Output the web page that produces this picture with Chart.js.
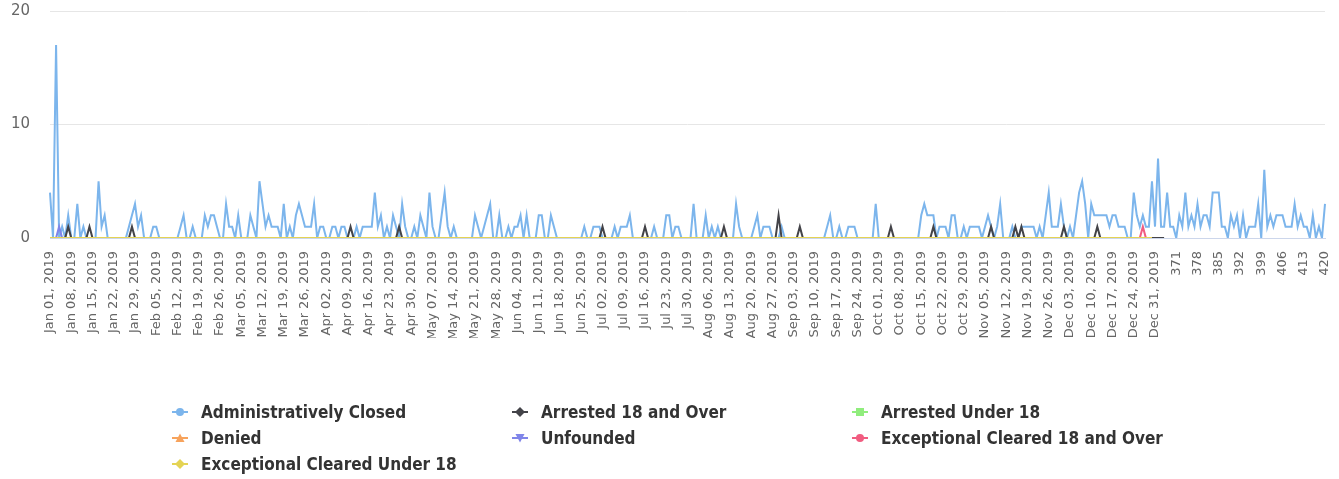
<!DOCTYPE html>
<html>
<head>
<meta charset="utf-8">
<script src="https://cdn.jsdelivr.net/npm/chart.js@4"></script>
<style>
    html, body { margin: 0; padding: 0; background: #fff; }
    #wrap { position: relative; width: 1339px; height: 479px; }
    #chart { position: absolute; left: 0; top: 0; }
    #legend { position: absolute; left: 172px; top: 399px; width: 1100px; }
    .legend-item {
        position: absolute; height: 26px; line-height: 26px; white-space: nowrap;
        font-family: "DejaVu Sans Condensed", "DejaVu Sans", sans-serif;
        font-weight: bold; font-size: 17px; color: #333;
    }
    .legend-item svg { position: absolute; left: 0; top: 5px; }
    .legend-item span { position: absolute; left: 29px; top: 0; }
</style>
</head>
<body>
<div id="wrap">
    <canvas id="chart" width="1339" height="479"></canvas>
    <div id="legend"></div>
</div>
<script>
// Series names and colours (Highcharts default palette)
const seriesNames = ['Administratively Closed', 'Arrested 18 and Over', 'Arrested Under 18', 'Denied',
    'Unfounded', 'Exceptional Cleared 18 and Over', 'Exceptional Cleared Under 18'];
const seriesColors = ['#7cb5ec', '#434348', '#90ed7d', '#f7a35c', '#8085e9', '#f15c80', '#e4d354'];
const seriesMarkers = ['circle', 'diamond', 'square', 'triangle', 'triangle-down', 'circle', 'diamond'];

// Y axis ticks
const yTicks = [0, 10, 20];

// Categories: every day of 2019, then plain index numbers
const monthNames = ['Jan', 'Feb', 'Mar', 'Apr', 'May', 'Jun', 'Jul', 'Aug', 'Sep', 'Oct', 'Nov', 'Dec'];
const monthDays = [31, 28, 31, 30, 31, 30, 31, 31, 30, 31, 30, 31];
const categories = [];
monthNames.forEach(function(m, mi) {
    for (let d = 1; d <= monthDays[mi]; d++) {
        categories.push(m + ' ' + (d < 10 ? '0' + d : d) + ', 2019');
    }
});
for (let n = 365; n <= 420; n++) categories.push(String(n));

// Administratively Closed (421 points)
const adminClosed = [
    4,0,17,0,1,0,2,0,0,3,   0,1,0,0,0,0,5,1,2,0,
    0,0,0,0,0,0,1,2,3,1,    2,0,0,0,1,1,0,0,0,0,
    0,0,0,1,2,0,0,1,0,0,    0,2,1,2,2,1,0,0,3,1,
    1,0,2,0,0,0,2,1,0,5,    3,1,2,1,1,1,0,3,0,1,
    0,2,3,2,1,1,1,3,0,1,    1,0,0,1,1,0,1,1,0,0,
    0,1,0,1,1,1,1,4,1,2,    0,1,0,2,1,0,3,1,0,0,
    1,0,2,1,0,4,1,0,0,2,    4,1,0,1,0,0,0,0,0,0,
    2,1,0,1,2,3,0,0,2,0,    0,1,0,1,1,2,0,2,0,0,
    0,2,2,0,0,2,1,0,0,0,    0,0,0,0,0,0,1,0,0,1,
    1,1,0,0,0,0,1,0,1,1,    1,2,0,0,0,0,0,0,0,1,
    0,0,0,2,2,0,1,1,0,0,    0,0,3,0,0,0,2,0,1,0,
    1,0,0,0,0,0,3,1,0,0,    0,0,1,2,0,1,1,1,0,0,
    0,1,0,0,0,0,0,0,0,0,    0,0,0,0,0,0,1,2,0,0,
    1,0,0,1,1,1,0,0,0,0,    0,0,3,0,0,0,0,0,0,0,
    0,0,0,0,0,0,0,2,3,2,    2,2,0,1,1,1,0,2,2,0,
    0,1,0,1,1,1,1,0,1,2,    1,0,1,3,0,0,0,1,0,0,
    1,1,1,1,1,0,1,0,2,4,    1,1,1,3,1,0,1,0,2,4,
    5,3,0,3,2,2,2,2,2,1,    2,2,1,1,1,0,0,4,2,1,
    2,1,1,5,1,7,1,1,4,1,    1,0,2,1,4,1,2,1,3,1,
    2,2,1,4,4,4,1,1,0,2,    1,2,0,2,0,1,1,1,3,0,
    6,1,2,1,2,2,2,1,1,1,    3,1,2,1,1,0,2,0,1,0,
    3
];

// Arrested 18 and Over (368 points)
const arrested18Over = [
    0,0,0,0,0,0,1,0,0,0,0,0,0,1,0,0,0,0,0,0,
    0,0,0,0,0,0,0,1,0,0,0,0,0,0,0,0,0,0,0,0,
    0,0,0,0,0,0,0,0,0,0,0,0,0,0,0,0,0,0,0,0,
    0,0,0,0,0,0,0,0,0,0,0,0,0,0,0,0,0,0,0,0,
    0,0,0,0,0,0,0,0,0,0,0,0,0,0,0,0,0,0,0,1,
    0,0,0,0,0,0,0,0,0,0,0,0,0,0,0,1,0,0,0,0,
    0,0,0,0,0,0,0,0,0,0,0,0,0,0,0,0,0,0,0,0,
    0,0,0,0,0,0,0,0,0,0,0,0,0,0,0,0,0,0,0,0,
    0,0,0,0,0,0,0,0,0,0,0,0,0,0,0,0,0,0,0,0,
    0,0,1,0,0,0,0,0,0,0,0,0,0,0,0,0,1,0,0,0,
    0,0,0,0,0,0,0,0,0,0,0,0,0,0,0,0,0,0,0,0,
    0,0,1,0,0,0,0,0,0,0,0,0,0,0,0,0,0,0,0,0,
    2,0,0,0,0,0,0,1,0,0,0,0,0,0,0,0,0,0,0,0,
    0,0,0,0,0,0,0,0,0,0,0,0,0,0,0,0,0,1,0,0,
    0,0,0,0,0,0,0,0,0,0,0,1,0,0,0,0,0,0,0,0,
    0,0,0,0,0,0,0,0,0,0,1,0,0,0,0,0,0,0,1,0,
    1,0,0,0,0,0,0,0,0,0,0,0,0,0,1,0,0,0,0,0,
    0,0,0,0,0,1,0,0,0,0,0,0,0,0,0,0,0,0,0,0,
    0,0,0,0,0,0,0,0
];

// Arrested Under 18 (364 points, all zero)
const arrestedUnder18 = [
    0,0,0,0,0,0,0,0,0,0,0,0,0,0,0,0,0,0,0,0, 0,0,0,0,0,0,0,0,0,0,0,0,0,0,0,0,0,0,0,0,
    0,0,0,0,0,0,0,0,0,0,0,0,0,0,0,0,0,0,0,0, 0,0,0,0,0,0,0,0,0,0,0,0,0,0,0,0,0,0,0,0,
    0,0,0,0,0,0,0,0,0,0,0,0,0,0,0,0,0,0,0,0, 0,0,0,0,0,0,0,0,0,0,0,0,0,0,0,0,0,0,0,0,
    0,0,0,0,0,0,0,0,0,0,0,0,0,0,0,0,0,0,0,0, 0,0,0,0,0,0,0,0,0,0,0,0,0,0,0,0,0,0,0,0,
    0,0,0,0,0,0,0,0,0,0,0,0,0,0,0,0,0,0,0,0, 0,0,0,0,0,0,0,0,0,0,0,0,0,0,0,0,0,0,0,0,
    0,0,0,0,0,0,0,0,0,0,0,0,0,0,0,0,0,0,0,0, 0,0,0,0,0,0,0,0,0,0,0,0,0,0,0,0,0,0,0,0,
    0,0,0,0,0,0,0,0,0,0,0,0,0,0,0,0,0,0,0,0, 0,0,0,0,0,0,0,0,0,0,0,0,0,0,0,0,0,0,0,0,
    0,0,0,0,0,0,0,0,0,0,0,0,0,0,0,0,0,0,0,0, 0,0,0,0,0,0,0,0,0,0,0,0,0,0,0,0,0,0,0,0,
    0,0,0,0,0,0,0,0,0,0,0,0,0,0,0,0,0,0,0,0, 0,0,0,0,0,0,0,0,0,0,0,0,0,0,0,0,0,0,0,0,
    0,0,0,0
];

// Denied (364 points, all zero)
const denied = [
    0,0,0,0,0,0,0,0,0,0,0,0,0,0,0,0,0,0,0,0, 0,0,0,0,0,0,0,0,0,0,0,0,0,0,0,0,0,0,0,0,
    0,0,0,0,0,0,0,0,0,0,0,0,0,0,0,0,0,0,0,0, 0,0,0,0,0,0,0,0,0,0,0,0,0,0,0,0,0,0,0,0,
    0,0,0,0,0,0,0,0,0,0,0,0,0,0,0,0,0,0,0,0, 0,0,0,0,0,0,0,0,0,0,0,0,0,0,0,0,0,0,0,0,
    0,0,0,0,0,0,0,0,0,0,0,0,0,0,0,0,0,0,0,0, 0,0,0,0,0,0,0,0,0,0,0,0,0,0,0,0,0,0,0,0,
    0,0,0,0,0,0,0,0,0,0,0,0,0,0,0,0,0,0,0,0, 0,0,0,0,0,0,0,0,0,0,0,0,0,0,0,0,0,0,0,0,
    0,0,0,0,0,0,0,0,0,0,0,0,0,0,0,0,0,0,0,0, 0,0,0,0,0,0,0,0,0,0,0,0,0,0,0,0,0,0,0,0,
    0,0,0,0,0,0,0,0,0,0,0,0,0,0,0,0,0,0,0,0, 0,0,0,0,0,0,0,0,0,0,0,0,0,0,0,0,0,0,0,0,
    0,0,0,0,0,0,0,0,0,0,0,0,0,0,0,0,0,0,0,0, 0,0,0,0,0,0,0,0,0,0,0,0,0,0,0,0,0,0,0,0,
    0,0,0,0,0,0,0,0,0,0,0,0,0,0,0,0,0,0,0,0, 0,0,0,0,0,0,0,0,0,0,0,0,0,0,0,0,0,0,0,0,
    0,0,0,0
];

// Unfounded (364 points)
const unfounded = [
    0,0,0,1,0,0,0,0,0,0,0,0,0,0,0,0,0,0,0,0, 0,0,0,0,0,0,0,0,0,0,0,0,0,0,0,0,0,0,0,0,
    0,0,0,0,0,0,0,0,0,0,0,0,0,0,0,0,0,0,0,0, 0,0,0,0,0,0,0,0,0,0,0,0,0,0,0,0,0,0,0,0,
    0,0,0,0,0,0,0,0,0,0,0,0,0,0,0,0,0,0,0,0, 0,0,0,0,0,0,0,0,0,0,0,0,0,0,0,0,0,0,0,0,
    0,0,0,0,0,0,0,0,0,0,0,0,0,0,0,0,0,0,0,0, 0,0,0,0,0,0,0,0,0,0,0,0,0,0,0,0,0,0,0,0,
    0,0,0,0,0,0,0,0,0,0,0,0,0,0,0,0,0,0,0,0, 0,0,0,0,0,0,0,0,0,0,0,0,0,0,0,0,0,0,0,0,
    0,0,0,0,0,0,0,0,0,0,0,0,0,0,0,0,0,0,0,0, 0,0,0,0,0,0,0,0,0,0,0,0,0,0,0,0,0,0,0,0,
    0,0,0,0,0,0,0,0,0,0,0,0,0,0,0,0,0,0,0,0, 0,0,0,0,0,0,0,0,0,0,0,0,0,0,0,0,0,0,0,0,
    0,0,0,0,0,0,0,0,0,0,0,0,0,0,0,0,0,0,0,0, 0,0,0,0,0,0,0,0,0,0,0,0,0,0,0,0,0,0,0,0,
    0,0,0,0,0,0,0,0,0,0,0,0,0,0,0,0,0,0,0,0, 0,0,0,0,0,0,0,0,0,0,0,0,0,0,0,0,0,0,0,0,
    0,0,0,0
];

// Exceptional Cleared 18 and Over (364 points)
const exceptional18Over = [
    0,0,0,0,0,0,0,0,0,0,0,0,0,0,0,0,0,0,0,0, 0,0,0,0,0,0,0,0,0,0,0,0,0,0,0,0,0,0,0,0,
    0,0,0,0,0,0,0,0,0,0,0,0,0,0,0,0,0,0,0,0, 0,0,0,0,0,0,0,0,0,0,0,0,0,0,0,0,0,0,0,0,
    0,0,0,0,0,0,0,0,0,0,0,0,0,0,0,0,0,0,0,0, 0,0,0,0,0,0,0,0,0,0,0,0,0,0,0,0,0,0,0,0,
    0,0,0,0,0,0,0,0,0,0,0,0,0,0,0,0,0,0,0,0, 0,0,0,0,0,0,0,0,0,0,0,0,0,0,0,0,0,0,0,0,
    0,0,0,0,0,0,0,0,0,0,0,0,0,0,0,0,0,0,0,0, 0,0,0,0,0,0,0,0,0,0,0,0,0,0,0,0,0,0,0,0,
    0,0,0,0,0,0,0,0,0,0,0,0,0,0,0,0,0,0,0,0, 0,0,0,0,0,0,0,0,0,0,0,0,0,0,0,0,0,0,0,0,
    0,0,0,0,0,0,0,0,0,0,0,0,0,0,0,0,0,0,0,0, 0,0,0,0,0,0,0,0,0,0,0,0,0,0,0,0,0,0,0,0,
    0,0,0,0,0,0,0,0,0,0,0,0,0,0,0,0,0,0,0,0, 0,0,0,0,0,0,0,0,0,0,0,0,0,0,0,0,0,0,0,0,
    0,0,0,0,0,0,0,0,0,0,0,0,0,0,0,0,0,0,0,0, 0,0,0,0,0,0,0,0,0,0,0,0,0,0,0,0,0,0,0,0,
    1,0,0,0
];

// Exceptional Cleared Under 18 (364 points, all zero)
const exceptionalUnder18 = [
    0,0,0,0,0,0,0,0,0,0,0,0,0,0,0,0,0,0,0,0, 0,0,0,0,0,0,0,0,0,0,0,0,0,0,0,0,0,0,0,0,
    0,0,0,0,0,0,0,0,0,0,0,0,0,0,0,0,0,0,0,0, 0,0,0,0,0,0,0,0,0,0,0,0,0,0,0,0,0,0,0,0,
    0,0,0,0,0,0,0,0,0,0,0,0,0,0,0,0,0,0,0,0, 0,0,0,0,0,0,0,0,0,0,0,0,0,0,0,0,0,0,0,0,
    0,0,0,0,0,0,0,0,0,0,0,0,0,0,0,0,0,0,0,0, 0,0,0,0,0,0,0,0,0,0,0,0,0,0,0,0,0,0,0,0,
    0,0,0,0,0,0,0,0,0,0,0,0,0,0,0,0,0,0,0,0, 0,0,0,0,0,0,0,0,0,0,0,0,0,0,0,0,0,0,0,0,
    0,0,0,0,0,0,0,0,0,0,0,0,0,0,0,0,0,0,0,0, 0,0,0,0,0,0,0,0,0,0,0,0,0,0,0,0,0,0,0,0,
    0,0,0,0,0,0,0,0,0,0,0,0,0,0,0,0,0,0,0,0, 0,0,0,0,0,0,0,0,0,0,0,0,0,0,0,0,0,0,0,0,
    0,0,0,0,0,0,0,0,0,0,0,0,0,0,0,0,0,0,0,0, 0,0,0,0,0,0,0,0,0,0,0,0,0,0,0,0,0,0,0,0,
    0,0,0,0,0,0,0,0,0,0,0,0,0,0,0,0,0,0,0,0, 0,0,0,0,0,0,0,0,0,0,0,0,0,0,0,0,0,0,0,0,
    0,0,0,0
];

const seriesData = [adminClosed, arrested18Over, arrestedUnder18, denied,
    unfounded, exceptional18Over, exceptionalUnder18];

const AXIS_FONT = '"DejaVu Sans", sans-serif';

// Build datasets; later series are drawn on top (as in the original)
const datasets = seriesNames.map(function(name, i) {
    return {
        label: name,
        data: seriesData[i],
        borderColor: seriesColors[i],
        backgroundColor: seriesColors[i],
        borderWidth: 2,
        pointRadius: 0,
        tension: 0,
        fill: false,
        order: seriesNames.length - i
    };
});

new Chart(document.getElementById('chart'), {
    type: 'line',
    data: { labels: categories, datasets: datasets },
    options: {
        responsive: false,
        animation: false,
        devicePixelRatio: 1,
        layout: { padding: { top: 11, right: 14, bottom: 141, left: 0 } },
        plugins: { legend: { display: false }, tooltip: { enabled: false } },
        scales: {
            x: {
                type: 'category',
                grid: { display: false, drawTicks: false },
                border: { display: true, color: '#ccd6eb', width: 1 },
                afterFit: function(scale) {
                    scale.height = 100;
                    scale.paddingLeft = 0;
                    scale.paddingRight = 0;
                },
                ticks: {
                    autoSkip: false,
                    minRotation: 90,
                    maxRotation: 90,
                    padding: 13,
                    color: '#666666',
                    font: { family: AXIS_FONT, size: 13 },
                    callback: function(value, index) {
                        return index % 7 === 0 ? categories[index] : null;
                    }
                }
            },
            y: {
                min: yTicks[0],
                max: yTicks[yTicks.length - 1],
                afterFit: function(scale) {
                    scale.width = 50;
                    scale.paddingTop = 0;
                    scale.paddingBottom = 0;
                },
                afterBuildTicks: function(scale) {
                    scale.ticks = yTicks.map(function(v) { return { value: v }; });
                },
                grid: { color: '#e6e6e6', drawTicks: false },
                border: { display: false },
                ticks: {
                    padding: 20,
                    color: '#666666',
                    font: { family: AXIS_FONT, size: 15 }
                }
            }
        }
    }
});

// HTML legend in three columns, like the original
function markerSvg(shape, color) {
    let m = '';
    if (shape === 'circle') m = '<circle cx="8" cy="8" r="4" fill="' + color + '"/>';
    else if (shape === 'square') m = '<rect x="4" y="4" width="8" height="8" fill="' + color + '"/>';
    else if (shape === 'diamond') m = '<path d="M8 3 L13 8 L8 13 L3 8 Z" fill="' + color + '"/>';
    else if (shape === 'triangle') m = '<path d="M8 3.5 L12.5 12 L3.5 12 Z" fill="' + color + '"/>';
    else if (shape === 'triangle-down') m = '<path d="M3.5 4 L12.5 4 L8 12.5 Z" fill="' + color + '"/>';
    return '<svg width="16" height="16" viewBox="0 0 16 16">' +
        '<line x1="0" y1="8" x2="16" y2="8" stroke="' + color + '" stroke-width="2"/>' + m + '</svg>';
}

const legendEl = document.getElementById('legend');
seriesNames.forEach(function(name, i) {
    const item = document.createElement('div');
    item.className = 'legend-item';
    item.style.left = ((i % 3) * 340) + 'px';
    item.style.top = (Math.floor(i / 3) * 26) + 'px';
    item.innerHTML = markerSvg(seriesMarkers[i], seriesColors[i]) + '<span>' + name + '</span>';
    legendEl.appendChild(item);
});
</script>
</body>
</html>
